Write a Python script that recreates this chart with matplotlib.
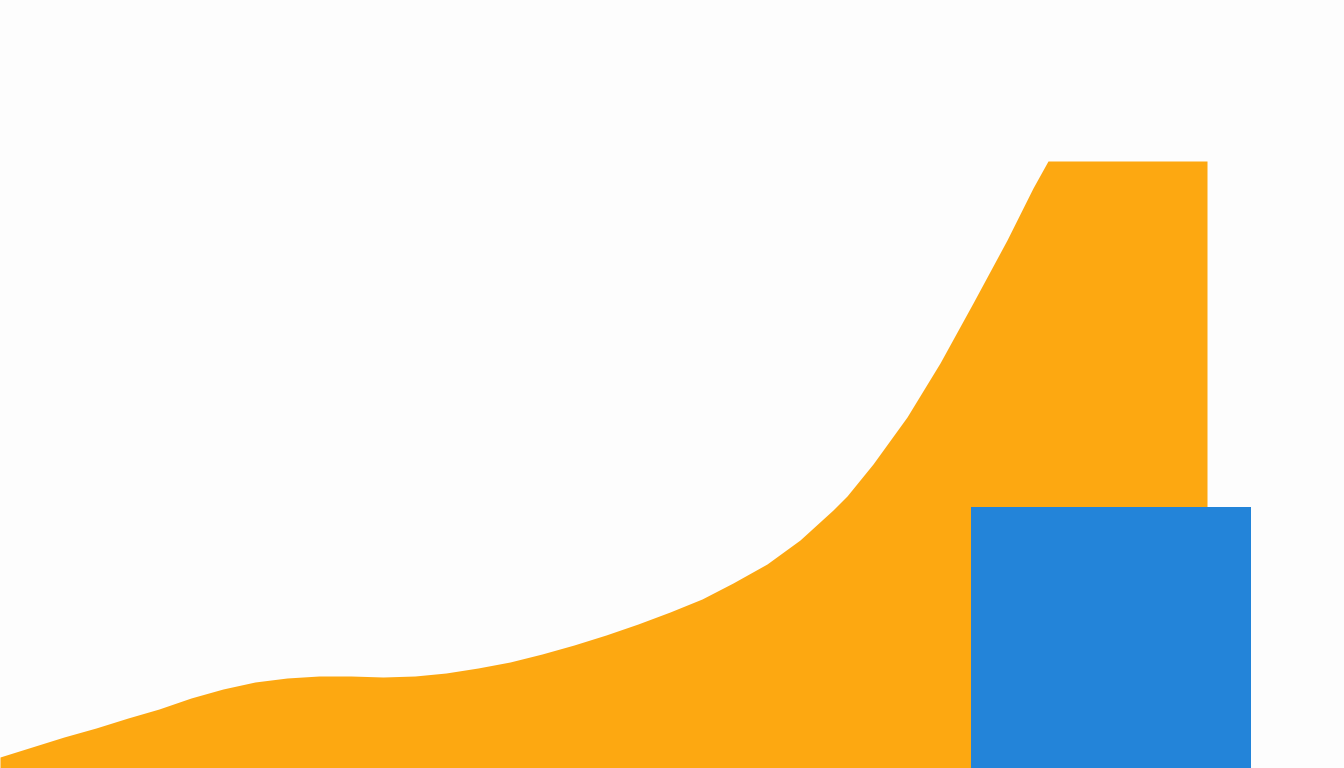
import matplotlib
matplotlib.use("Agg")
import matplotlib.pyplot as plt

# orange area: x position and height of the top edge
area_x = [0, 32, 64, 96, 128, 159, 191, 223, 255, 287, 319, 351, 383, 415,
          446, 478, 510, 542, 574, 606, 638, 670, 702, 733, 767, 800, 833,
          847, 873, 907, 940, 973, 1007, 1033, 1048, 1207, 1207]
area_h = [11, 21, 31, 40, 50, 59, 70, 79, 86, 90, 92, 92, 91, 92,
          95, 100, 106, 114, 123, 133, 144, 156, 169, 185, 204, 228, 258,
          272, 304, 351, 405, 465, 528, 580, 607, 607, 0]

# blue block
block_left = 971
block_width = 280
block_height = 261

fig = plt.figure(figsize=(13.44, 7.68), dpi=100)
fig.patch.set_facecolor("#fdfdfd")
ax = fig.add_axes([0, 0, 1, 1])
ax.set_facecolor("#fdfdfd")

ax.fill_between(area_x, 0, area_h, color="#fda811", linewidth=0)
ax.bar(block_left, block_height, width=block_width, align="edge",
       color="#2384d9", linewidth=0)

ax.set_xlim(0, 1344)
ax.set_ylim(0, 768)
ax.axis("off")

plt.savefig("out.png", dpi=100, facecolor=fig.get_facecolor())
plt.close()
